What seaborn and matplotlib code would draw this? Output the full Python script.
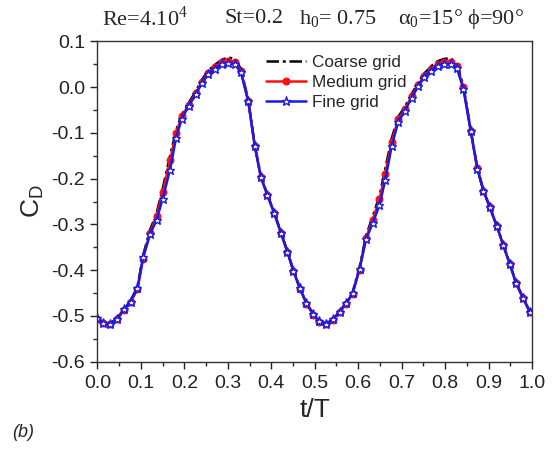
import matplotlib
matplotlib.use("Agg")
import matplotlib.pyplot as plt
import seaborn as sns
import pandas as pd
from matplotlib.ticker import MultipleLocator

# ---------------- data ----------------
t_fine = [0.000, 0.013, 0.029, 0.046, 0.061, 0.076, 0.092, 0.105, 0.121, 0.136,
          0.150, 0.167, 0.181, 0.194, 0.210, 0.227, 0.240, 0.255, 0.270, 0.286,
          0.301, 0.316, 0.330, 0.347, 0.362, 0.376, 0.391, 0.407, 0.422, 0.437,
          0.451, 0.466, 0.481, 0.497, 0.510, 0.526, 0.541, 0.557, 0.572, 0.587,
          0.603, 0.618, 0.633, 0.649, 0.662, 0.677, 0.692, 0.708, 0.723, 0.738,
          0.752, 0.768, 0.783, 0.798, 0.814, 0.827, 0.842, 0.859, 0.874, 0.888,
          0.903, 0.919, 0.934, 0.949, 0.963, 0.979, 0.995]
cd_fine = [-0.505, -0.515, -0.518, -0.506, -0.486, -0.469, -0.440, -0.371, -0.322, -0.290,
           -0.244, -0.180, -0.110, -0.069, -0.041, -0.015, 0.009, 0.029, 0.040, 0.050,
           0.052, 0.050, 0.033, -0.031, -0.129, -0.197, -0.236, -0.276, -0.318, -0.360,
           -0.402, -0.440, -0.473, -0.496, -0.512, -0.517, -0.508, -0.491, -0.473, -0.451,
           -0.397, -0.333, -0.298, -0.258, -0.204, -0.129, -0.076, -0.051, -0.023, 0.002,
           0.022, 0.036, 0.047, 0.050, 0.050, 0.042, -0.003, -0.096, -0.178, -0.226,
           -0.263, -0.304, -0.346, -0.387, -0.428, -0.460, -0.491]
cd_medium = [-0.507, -0.516, -0.519, -0.507, -0.487, -0.470, -0.442, -0.375, -0.318, -0.282,
             -0.230, -0.160, -0.100, -0.064, -0.038, -0.012, 0.012, 0.032, 0.044, 0.055,
             0.058, 0.056, 0.036, -0.030, -0.128, -0.196, -0.236, -0.276, -0.318, -0.360,
             -0.402, -0.441, -0.474, -0.498, -0.514, -0.519, -0.510, -0.492, -0.474, -0.452,
             -0.399, -0.330, -0.290, -0.245, -0.190, -0.120, -0.070, -0.047, -0.020, 0.005,
             0.025, 0.040, 0.051, 0.055, 0.056, 0.046, 0.000, -0.095, -0.177, -0.226,
             -0.263, -0.304, -0.346, -0.387, -0.428, -0.461, -0.492]
cd_coarse = [-0.506, -0.515, -0.517, -0.505, -0.485, -0.467, -0.437, -0.368, -0.312, -0.276,
             -0.222, -0.150, -0.094, -0.060, -0.034, -0.008, 0.016, 0.036, 0.049, 0.060,
             0.065, 0.062, 0.040, -0.028, -0.127, -0.195, -0.235, -0.275, -0.317, -0.359,
             -0.401, -0.440, -0.473, -0.497, -0.513, -0.518, -0.509, -0.491, -0.472, -0.449,
             -0.394, -0.325, -0.284, -0.238, -0.180, -0.112, -0.065, -0.042, -0.015, 0.010,
             0.030, 0.046, 0.057, 0.062, 0.063, 0.050, 0.003, -0.094, -0.176, -0.225,
             -0.262, -0.303, -0.345, -0.386, -0.427, -0.460, -0.491]

series_names = ["Coarse grid", "Medium grid", "Fine grid"]
x_ticks = [0.0, 0.1, 0.2, 0.3, 0.4, 0.5, 0.6, 0.7, 0.8, 0.9, 1.0]
y_ticks = [-0.6, -0.5, -0.4, -0.3, -0.2, -0.1, 0.0, 0.1]
title_parts = [r"Re=4.10$^\mathregular{4}$", "St=0.2", r"h$_\mathregular{0}$= 0.75",
               r"$\mathregular{\alpha}_\mathregular{0}$=15° ϕ=90°"]

# ---------------- style ----------------
sns.set_style("ticks")
plt.rcParams["font.family"] = ["Liberation Sans", "DejaVu Sans"]
plt.rcParams["axes.unicode_minus"] = False

fig = plt.figure(figsize=(5.52, 4.51), dpi=100)
ax = fig.add_axes([0.1766, 0.1984, 0.7872, 0.7096])

df_c = pd.DataFrame({"t": t_fine, "cd": cd_coarse})
df_m = pd.DataFrame({"t": t_fine, "cd": cd_medium})
df_f = pd.DataFrame({"t": t_fine, "cd": cd_fine})

sns.lineplot(data=df_c, x="t", y="cd", ax=ax, color="black", lw=1.8,
             linestyle=(0, (5, 1.5, 1.2, 1.5)), label=series_names[0], sort=False)
sns.lineplot(data=df_m, x="t", y="cd", ax=ax, color="#ff1010", lw=1.8,
             marker="o", markersize=5, markeredgecolor="#ff1010",
             label=series_names[1], sort=False)
sns.lineplot(data=df_f, x="t", y="cd", ax=ax, color="#1a1ae6", lw=1.8,
             marker="*", markersize=6.5, markerfacecolor="white",
             markeredgecolor="#1a1ae6", markeredgewidth=1.0,
             label=series_names[2], sort=False)

ax.set_xlim(0.0, 1.0)
ax.set_ylim(-0.6, 0.1)
ax.set_xticks(x_ticks)
ax.set_yticks(y_ticks)
ax.set_xticklabels([f"{v:.1f}" for v in x_ticks])
ax.set_yticklabels([f"{v:.1f}" for v in y_ticks])
ax.xaxis.set_minor_locator(MultipleLocator(0.05))
ax.yaxis.set_minor_locator(MultipleLocator(0.05))
ax.tick_params(axis="both", which="major", direction="out", length=5, width=1.0,
               labelsize=14, colors="#222222")
ax.tick_params(axis="x", which="major", pad=5)
ax.tick_params(axis="y", which="major", pad=4)
ax.tick_params(axis="both", which="minor", direction="out", length=3, width=1.0)
ax.tick_params(top=False, right=False, which="both")
for s in ax.spines.values():
    s.set_visible(True)
    s.set_linewidth(1.0)
    s.set_color("#333333")

ax.set_xlabel("t/T", fontsize=19, labelpad=4)
ax.set_ylabel(r"C$_\mathregular{D}$", fontsize=19, labelpad=4)

leg = ax.legend(loc="upper left", bbox_to_anchor=(0.365, 0.99), frameon=False,
                fontsize=12.3, handlelength=2.3, handletextpad=0.35,
                labelspacing=0.3, borderaxespad=0.2)

title_x = [102, 225, 299, 398]
for px, txt in zip(title_x, title_parts):
    fig.text(px / 552, 0.958, txt, fontsize=16,
             family=["Liberation Serif", "DejaVu Serif"], ha="left", va="center")
fig.text(0.022, 0.042, "(b)", fontsize=13, style="italic", ha="left", va="center")

fig.savefig("out.png", dpi=100)
